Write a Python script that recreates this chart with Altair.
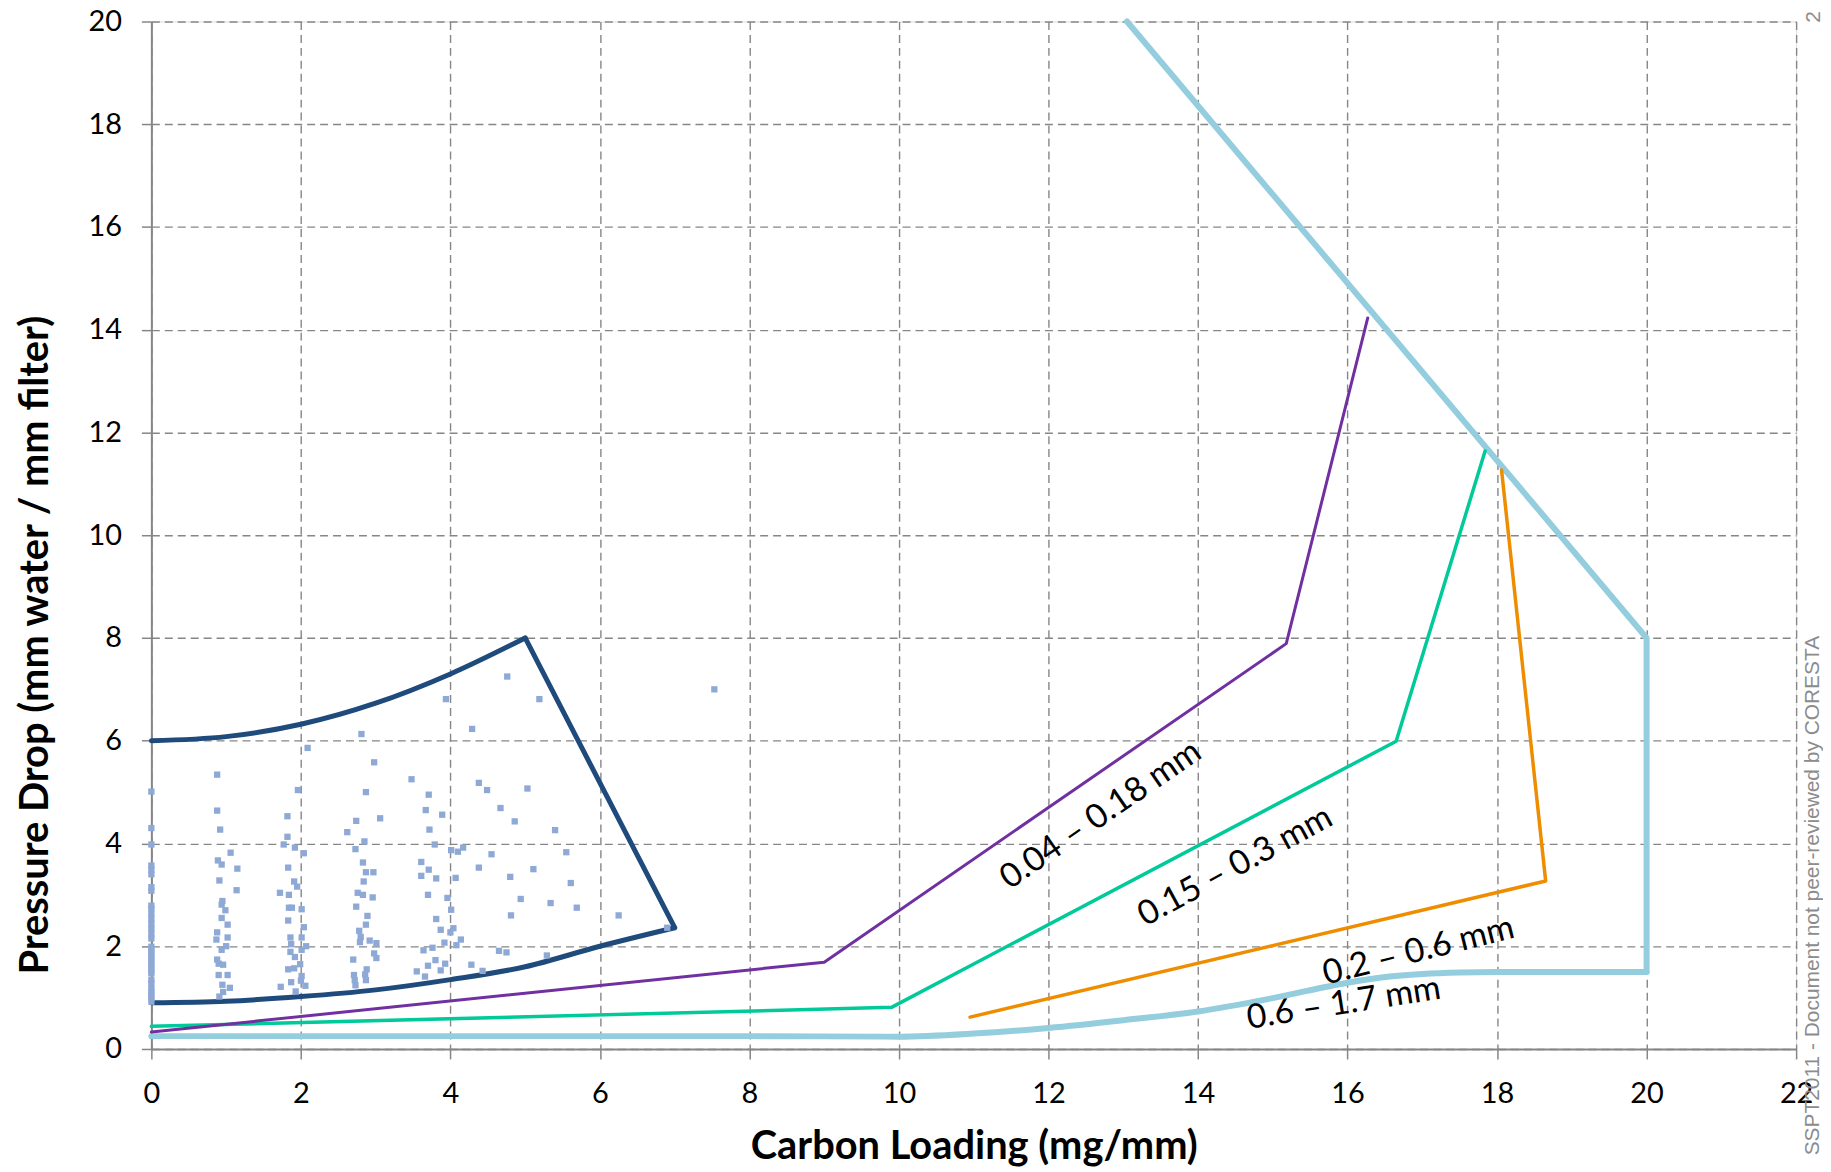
import altair as alt
import pandas as pd

# ---------------- data ----------------
x_ticks = list(range(0, 23, 2))
y_ticks = list(range(0, 21, 2))

# scatter (measured points), grouped by column
c0_x = [0.0] * 32
c0_y = [5.01, 4.30, 3.98, 3.57, 3.49, 3.40, 3.15, 3.08, 2.79, 2.73, 2.63, 2.53, 2.44, 2.34, 2.24, 2.15,
        1.99, 1.92, 1.86, 1.79, 1.73, 1.66, 1.60, 1.53, 1.47, 1.34, 1.28, 1.18, 1.12, 1.05, 0.99, 0.92]
c1_x = [0.88, 0.88, 0.92, 1.06, 0.89, 0.94, 1.15, 0.91, 1.14, 0.95, 0.94, 0.99, 0.94, 1.02, 0.88, 1.02,
        0.87, 1.00, 0.94, 0.88, 0.90, 0.96, 0.90, 1.02, 0.95, 1.05, 0.96, 0.91]
c1_y = [5.34, 4.64, 4.27, 3.82, 3.67, 3.59, 3.51, 3.28, 3.09, 2.88, 2.81, 2.70, 2.55, 2.42, 2.27, 2.17,
        2.13, 2.00, 1.93, 1.74, 1.66, 1.64, 1.44, 1.44, 1.25, 1.19, 1.11, 1.02]
c2_x = [2.09, 1.96, 1.82, 1.82, 1.77, 1.92, 2.04, 1.83, 1.91, 1.95, 1.72, 1.84, 1.84, 1.88, 2.01, 1.83,
        2.04, 1.86, 2.01, 1.87, 2.07, 2.01, 1.86, 1.92, 1.99, 1.83, 1.91, 2.01, 2.00, 1.73, 1.87, 2.06, 1.93]
c2_y = [5.86, 5.04, 4.53, 4.13, 3.98, 3.92, 3.81, 3.53, 3.26, 3.16, 3.04, 3.00, 2.75, 2.75, 2.72, 2.50,
        2.37, 2.17, 2.17, 2.04, 2.00, 1.93, 1.89, 1.79, 1.65, 1.55, 1.57, 1.42, 1.33, 1.21, 1.30, 1.23, 1.12]
c3_x = [2.81, 2.98, 2.87, 2.74, 3.06, 2.62, 2.85, 2.73, 2.83, 2.87, 2.97, 2.84, 2.76, 2.83, 2.96, 2.74,
        2.89, 2.87, 2.78, 2.80, 2.79, 2.92, 3.01, 2.98, 3.01, 2.70, 2.88, 2.86, 2.71, 2.72, 2.87, 2.73]
c3_y = [6.13, 5.58, 5.00, 4.44, 4.49, 4.22, 4.04, 3.89, 3.63, 3.44, 3.44, 3.26, 3.04, 3.00, 2.95, 2.77,
        2.59, 2.42, 2.30, 2.18, 2.08, 2.11, 2.06, 1.86, 1.77, 1.74, 1.55, 1.45, 1.44, 1.34, 1.34, 1.24]
c4_x = [3.48, 3.71, 3.67, 3.89, 3.72, 3.79, 4.01, 4.10, 4.17, 3.61, 3.71, 3.61, 3.81, 4.07, 3.70, 3.96,
        4.01, 3.81, 3.87, 4.04, 4.00, 4.14, 3.92, 4.08, 3.76, 3.64, 3.80, 3.93, 3.70, 3.87, 3.55, 3.66]
c4_y = [5.25, 4.95, 4.65, 4.56, 4.27, 3.98, 3.87, 3.84, 3.92, 3.64, 3.49, 3.37, 3.32, 3.33, 3.00, 2.94,
        2.71, 2.53, 2.32, 2.35, 2.27, 2.13, 2.07, 2.02, 1.97, 1.92, 1.73, 1.66, 1.62, 1.53, 1.51, 1.41]
c5_x = [3.94, 4.76, 5.19, 4.29, 4.38, 4.49, 5.03, 4.67, 4.86, 5.40, 4.55, 5.55, 4.38, 5.11, 4.80, 5.61,
        4.94, 5.34, 5.69, 4.81, 6.25, 6.90, 4.65, 4.75, 5.29, 4.28, 4.43, 7.53]
c5_y = [6.81, 7.25, 6.81, 6.23, 5.18, 5.04, 5.07, 4.69, 4.43, 4.26, 3.79, 3.83, 3.53, 3.50, 3.35, 3.23,
        2.92, 2.84, 2.75, 2.60, 2.60, 2.36, 1.91, 1.88, 1.82, 1.64, 1.52, 7.00]

# navy envelope
env_top_x = [0, 1, 2, 3, 4, 5]
env_top_y = [6.0, 6.08, 6.32, 6.73, 7.30, 8.0]
env_side_x = [5, 7]
env_side_y = [8.0, 2.36]
env_bot_x = [0, 1, 2, 3, 4, 5, 6, 7]
env_bot_y = [0.90, 0.93, 1.02, 1.15, 1.35, 1.60, 2.00, 2.36]

# particle-size boundaries
p1_x = [0, 9.0, 15.18, 16.27]          # 0.04 - 0.18 mm
p1_y = [0.33, 1.69, 7.89, 14.23]
p2_x = [0, 9.9, 16.65, 17.84]          # 0.15 - 0.3 mm
p2_y = [0.44, 0.81, 5.99, 11.64]
p3_x = [10.95, 18.65, 18.06]           # 0.2 - 0.6 mm
p3_y = [0.62, 3.27, 11.27]
p4a_x = [0, 4, 8, 10, 11, 12, 13, 14, 15, 16, 16.5, 17, 17.5, 18, 19, 20]   # 0.6 - 1.7 mm
p4a_y = [0.25, 0.25, 0.25, 0.24, 0.30, 0.41, 0.56, 0.73, 0.99, 1.29, 1.40, 1.46, 1.49, 1.50, 1.50, 1.50]
p4b_x = [20, 20, 13.05]
p4b_y = [1.50, 8.0, 20.0]

lab_text = ["0.04 \u2013 0.18 mm", "0.15 \u2013 0.3 mm", "0.2 \u2013 0.6 mm", "0.6 \u2013 1.7 mm"]
lab_x = [12.70, 14.50, 16.95, 15.95]
lab_y = [4.55, 3.55, 1.90, 0.88]
lab_angle = [325.5, 331.5, 346, 351]

note_text = ["SSPT2011 - Document not peer-reviewed by CORESTA", "2"]
note_x = [22.23, 22.24]
note_y = [8.04, 20.2]

# ---------------- chart ----------------
GRAY = "#868686"
FONT = "Lato"

xscale = alt.Scale(domain=[0, 22], nice=False, zero=False)
yscale = alt.Scale(domain=[0, 20], nice=False, zero=False)

xaxis = alt.Axis(values=x_ticks, title="Carbon Loading (mg/mm)", labelFlush=False, labelOverlap=False,
                 labelFont=FONT, labelFontSize=29, labelColor="black", labelBaseline="alphabetic",
                 labelPadding=44, tickSize=10, tickColor=GRAY, tickWidth=1.5,
                 domainColor=GRAY, domainWidth=2, grid=True, gridColor=GRAY, gridDash=[8, 5],
                 gridWidth=1.4, titleFont=FONT, titleFontSize=40, titleFontWeight="bold",
                 titleColor="black", titleY=110, titleBaseline="alphabetic")
yaxis = alt.Axis(values=y_ticks, title="Pressure Drop (mm water / mm filter)", labelFlush=False,
                 labelOverlap=False, labelFont=FONT, labelFontSize=29, labelColor="black",
                 labelPadding=20, tickSize=10, tickColor=GRAY, tickWidth=1.5,
                 domainColor=GRAY, domainWidth=2, grid=True, gridColor=GRAY, gridDash=[8, 5],
                 gridWidth=1.4, titleFont=FONT, titleFontSize=40, titleFontWeight="bold",
                 titleColor="black", titleAngle=270, titleX=-116, titleY=626,
                 titleAlign="center", titleBaseline="middle")


def enc_x():
    return alt.X("x:Q", scale=xscale, axis=xaxis)


def enc_y():
    return alt.Y("y:Q", scale=yscale, axis=yaxis)


def line(xs, ys, color, width, interp="linear"):
    df = pd.DataFrame({"x": xs, "y": ys, "i": list(range(len(xs)))})
    return alt.Chart(df).mark_line(color=color, strokeWidth=width, interpolate=interp,
                                   strokeCap="round", strokeJoin="round").encode(
        x=enc_x(), y=enc_y(), order="i:Q")


sc_df = pd.DataFrame({"x": c0_x + c1_x + c2_x + c3_x + c4_x + c5_x,
                      "y": c0_y + c1_y + c2_y + c3_y + c4_y + c5_y})
scatter = alt.Chart(sc_df).mark_square(size=40, color="#8EA9D6", opacity=1).encode(x=enc_x(), y=enc_y())

lab_df = pd.DataFrame({"x": lab_x, "y": lab_y, "t": lab_text, "a": lab_angle})
labels = alt.Chart(lab_df).mark_text(font=FONT, fontSize=34, color="black", align="center",
                                     baseline="middle").encode(
    x=enc_x(), y=enc_y(), text="t:N", angle=alt.Angle("a:Q", scale=None))

note_df = pd.DataFrame({"x": note_x, "y": note_y, "t": note_text})
notes = alt.Chart(note_df).mark_text(font="Liberation Sans", fontSize=21, color="#8c8c8c",
                                     align="right", baseline="middle", angle=270).encode(
    x=enc_x(), y=enc_y(), text="t:N")

chart = alt.layer(
    line(p4a_x, p4a_y, "#94CDDD", 6, "monotone"),
    line(p4b_x, p4b_y, "#94CDDD", 6),
    line(p3_x, p3_y, "#EF8D00", 3.5),
    line(p2_x, p2_y, "#00C99A", 3.5),
    line(p1_x, p1_y, "#7030A0", 3),
    line(env_top_x, env_top_y, "#1F4A7C", 5, "monotone"),
    line(env_side_x, env_side_y, "#1F4A7C", 5),
    line(env_bot_x, env_bot_y, "#1F4A7C", 5, "monotone"),
    scatter,
    labels,
    notes,
).properties(
    width=1652, height=1032,
    padding={"left": 144, "top": 11, "right": 27, "bottom": 118},
    autosize=alt.AutoSizeParams(type="none"),
).configure_view(stroke=None).configure(background="white")

chart.save("out.html", embed_options={"renderer": "svg", "actions": False})
